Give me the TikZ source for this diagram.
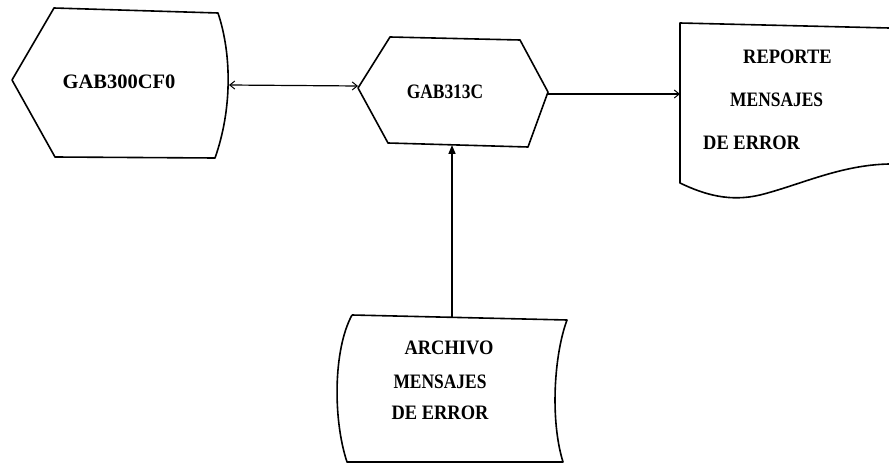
\documentclass[tikz,border=0pt]{standalone}
\usepackage{fontspec}
\setmainfont{Liberation Serif}
\usetikzlibrary{arrows.meta}
\newcommand{\squeeze}[2]{\scalebox{#1}[1]{#2}}
\begin{document}
\begin{tikzpicture}[x=1pt,y=-1pt,
  outline/.style={draw=black,line width=1.6pt,line join=round},
  label/.style={font=\bfseries\fontsize{20.5}{20.5}\selectfont,inner sep=0pt},
  flow/.style={draw=black,line width=1.2pt},
  barb/.tip={Straight Barb[length=5pt,width=8pt,line width=1pt]},
  solidtip/.tip={Triangle[length=9pt,width=7pt]}]
\useasboundingbox (0,0) rectangle (889,465);

% module GAB300CF0
\draw[outline] (54,8) -- (218,13) .. controls (232,55) and (232,110) .. (215,158)
  -- (55,157) -- (12,80) -- cycle;
\node[label] (gab300) at (119,82) {GAB300CF0};
\coordinate (gab300E) at (229,85);

% module GAB313C
\draw[outline] (358,88) -- (390,37) -- (520,40) -- (548,92) -- (528,147) -- (388,143) -- cycle;
\node[label] (gab313) at (445,92) {\squeeze{0.85}{GAB313C}};
\coordinate (gab313W) at (358,86);
\coordinate (gab313E) at (548,94);
\coordinate (gab313S) at (452,145);

% printed report
\draw[outline] (889,28) -- (680,23) -- (680,183)
  .. controls (705,195) and (730,202) .. (760,195)
  .. controls (800,185) and (840,165) .. (889,164);
\node[label,anchor=west] (rep1) at (743,57) {\squeeze{0.9}{REPORTE}};
\node[label,anchor=west] (rep2) at (730,100) {\squeeze{0.85}{MENSAJES}};
\node[label,anchor=west] (rep3) at (703,143) {\squeeze{0.9}{DE ERROR}};
\coordinate (repW) at (680,94);

% message file
\draw[outline] (352,315) -- (567,320) .. controls (554,355) and (550,420) .. (563,462)
  -- (347,462) .. controls (333,420) and (333,350) .. (352,315);
\node[label] (arc1) at (449,348) {\squeeze{0.9}{ARCHIVO}};
\node[label] (arc2) at (440,382) {\squeeze{0.85}{MENSAJES}};
\node[label] (arc3) at (440,413) {\squeeze{0.9}{DE ERROR}};
\coordinate (arcN) at (452,317);

% data flows
\draw[flow,barb-barb] (gab300E) -- (gab313W);
\draw[flow,-barb] (gab313E) -- (repW);
\draw[flow,line width=1.6pt,-solidtip] (arcN) -- (gab313S);
\end{tikzpicture}
\end{document}
